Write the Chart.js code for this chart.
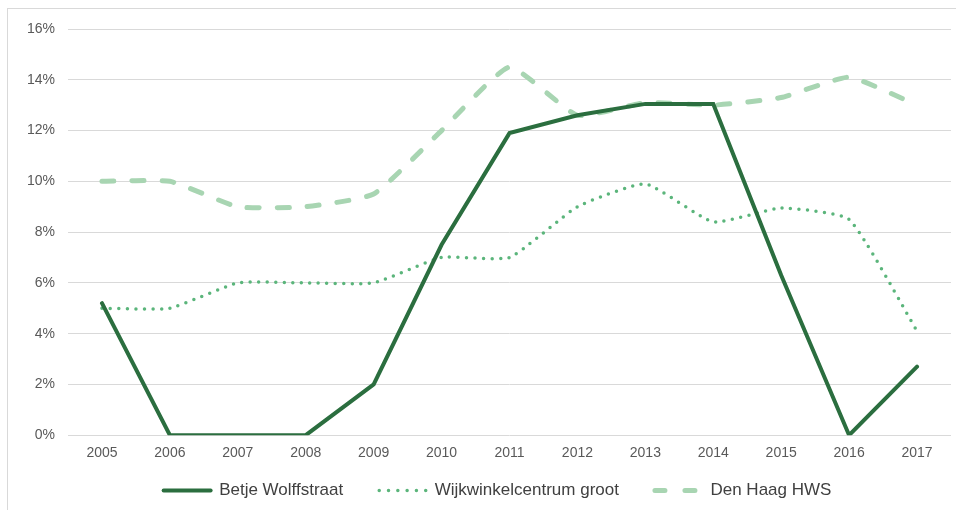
<!DOCTYPE html>
<html>
<head>
<meta charset="utf-8">
<script src="https://cdn.jsdelivr.net/npm/chart.js@4"></script>
<style>
  html, body { margin: 0; padding: 0; background: #fff; }
  #wrap { position: relative; width: 956px; height: 510px; overflow: hidden; }
  #frame { position: absolute; left: 7px; top: 8px; width: 1000px; height: 600px; border: 1px solid #d9d9d9; }
  canvas { position: absolute; left: 0; top: 0; }
</style>
</head>
<body>
<div id="wrap">
  <div id="frame"></div>
  <canvas id="chart" width="956" height="510"></canvas>
</div>
<script>
// Years on the x axis
const years = ['2005', '2006', '2007', '2008', '2009', '2010', '2011', '2012', '2013', '2014', '2015', '2016', '2017'];

// Series values (percent)
const betjeWolffstraat = [5.2, 0, 0, 0, 2.0, 7.5, 11.9, 12.6, 13.05, 13.05, 6.3, 0, 2.7];
const wijkwinkelcentrum = [5.0, 5.0, 6.0, 6.0, 6.0, 7.0, 7.0, 9.0, 9.9, 8.4, 8.95, 8.5, 4.1];
const denHaagHWS = [10.0, 10.0, 9.0, 9.0, 9.5, 12.0, 14.5, 12.6, 13.1, 13.0, 13.3, 14.1, 13.0];

// Y axis range
const yMin = 0;
const yMax = 16;
const yStep = 2;

Chart.defaults.font.family = '"Liberation Sans", Arial, sans-serif';

// Legend entries drawn as short line samples with the series' own dash
function lineLegendLabels(chart) {
  return chart.data.datasets.map((ds, i) => ({
    text: ds.label,
    datasetIndex: i,
    hidden: false,
    fillStyle: ds.borderColor,
    strokeStyle: ds.borderColor,
    lineWidth: ds.borderWidth,
    lineDash: ds.legendDash || [],
    lineCap: ds.borderCapStyle || 'butt',
    pointStyle: 'line',
    fontColor: '#404040'
  }));
}

// Let the legend sit closer to the axis labels (its box overlaps the x axis area)
// and centre it a little to the right, like the original
const legendLift = {
  id: 'legendLift',
  afterLayout(chart) {
    const lg = chart.legend;
    if (!lg) return;
    lg.top -= 26;
    lg.height += 26;
    lg.left += 22;
    lg.right += 22;
  }
};

new Chart(document.getElementById('chart'), {
  type: 'line',
  data: {
    labels: years,
    datasets: [
      {
        label: 'Betje Wolffstraat',
        data: betjeWolffstraat,
        borderColor: '#2b6e3f',
        backgroundColor: '#2b6e3f',
        borderWidth: 4,
        borderCapStyle: 'round',
        tension: 0,
        pointRadius: 0,
        fill: false
      },
      {
        label: 'Wijkwinkelcentrum groot',
        data: wijkwinkelcentrum,
        borderColor: '#5bb57b',
        backgroundColor: '#5bb57b',
        borderWidth: 3.5,
        borderDash: [0, 8.5],
        legendDash: [0, 9.3],
        borderCapStyle: 'round',
        tension: 0.15,
        pointRadius: 0,
        fill: false
      },
      {
        label: 'Den Haag HWS',
        data: denHaagHWS,
        borderColor: '#a8d5b2',
        backgroundColor: '#a8d5b2',
        borderWidth: 5,
        borderDash: [12, 18],
        legendDash: [10, 20],
        borderCapStyle: 'round',
        tension: 0.15,
        pointRadius: 0,
        fill: false
      }
    ]
  },
  options: {
    responsive: false,
    animation: false,
    layout: {
      padding: { top: 29, right: 5, bottom: 1, left: 0 }
    },
    scales: {
      x: {
        offset: true,
        grid: { display: false, drawTicks: false },
        border: { display: false },
        ticks: {
          color: '#595959',
          font: { size: 14 },
          padding: 10,
          maxRotation: 0
        }
      },
      y: {
        min: yMin,
        max: yMax,
        afterFit: scale => { scale.width = 68; },
        grid: { color: '#d9d9d9', lineWidth: 1, drawTicks: false },
        border: { display: false },
        ticks: {
          stepSize: yStep,
          color: '#595959',
          font: { size: 14 },
          padding: 13,
          callback: v => v + '%'
        }
      }
    },
    plugins: {
      legend: {
        position: 'bottom',
        maxHeight: 37,
        labels: {
          usePointStyle: true,
          pointStyleWidth: 47,
          boxWidth: 47,
          boxHeight: 10,
          padding: 36,
          color: '#404040',
          font: { size: 17 },
          generateLabels: lineLegendLabels
        }
      },
      tooltip: { enabled: false }
    }
  },
  plugins: [legendLift]
});
</script>
</body>
</html>
